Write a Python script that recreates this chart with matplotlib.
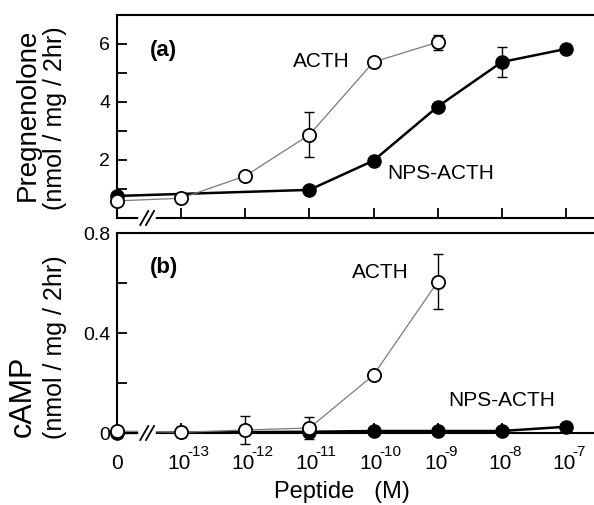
import matplotlib
matplotlib.use("Agg")
import matplotlib.pyplot as plt

plt.rcParams['font.family'] = ['Liberation Sans', 'DejaVu Sans']

# x positions (0 = no peptide, then 10^-13 ... 10^-7)
x_labels = ["0", "-13", "-12", "-11", "-10", "-9", "-8", "-7"]

# Panel (a) Pregnenolone
acth_a_x = [0, 1, 2, 3, 4, 5]
acth_a_y = [0.59, 0.68, 1.45, 2.87, 5.38, 6.06]
acth_a_err = [0.0, 0.0, 0.0, 0.78, 0.0, 0.25]
nps_a_x = [0, 3, 4, 5, 6, 7]
nps_a_y = [0.76, 0.97, 1.98, 3.84, 5.38, 5.83]
nps_a_err = [0.0, 0.0, 0.0, 0.0, 0.52, 0.1]

# Panel (b) cAMP
acth_b_x = [0, 1, 2, 3, 4, 5]
acth_b_y = [0.008, 0.003, 0.012, 0.02, 0.232, 0.605]
acth_b_err = [0.0, 0.02, 0.055, 0.045, 0.0, 0.11]
nps_b_x = [0, 3, 4, 5, 6, 7]
nps_b_y = [0.0, 0.005, 0.008, 0.008, 0.008, 0.025]
nps_b_err = [0.0, 0.0, 0.0, 0.0, 0.0, 0.0]

W, H = 594, 505
fig = plt.figure(figsize=(W / 100, H / 100), dpi=100)

def fx(px):
    return px / W

def fy(py):
    return 1 - py / H

ax1 = fig.add_axes([fx(117), fy(218), 1 - fx(117), fy(15) - fy(218)])
ax2 = fig.add_axes([fx(117), fy(433), 1 - fx(117), fy(233) - fy(433)])

xmax = (594 - 117) / 64.14

def style(ax):
    for s in ['left', 'top', 'bottom']:
        ax.spines[s].set_linewidth(1.5)
    ax.spines['right'].set_visible(False)
    ax.set_xlim(0, xmax)
    ax.set_xticks(range(1, 8))
    ax.tick_params(axis='both', direction='in', length=7, width=1.3, labelsize=14)
    ax.tick_params(axis='y', which='minor', direction='in', length=7, width=1.3)
    ax.tick_params(axis='x', labelbottom=False)
    ax.tick_params(axis='y', pad=5)

def draw(ax, xa, ya, ea, xn, yn, en):
    ax.errorbar(xn, yn, yerr=en, fmt='none', ecolor='black', elinewidth=1.0,
                capsize=3.5, capthick=1.0, zorder=2, clip_on=False)
    ax.plot(xn, yn, '-', color='black', lw=1.8, zorder=3, clip_on=False)
    ax.plot(xn, yn, 'o', mfc='black', mec='black', ms=9.5, zorder=4, clip_on=False)
    ax.errorbar(xa, ya, yerr=ea, fmt='none', ecolor='black', elinewidth=1.0,
                capsize=3.5, capthick=1.0, zorder=5, clip_on=False)
    ax.plot(xa, ya, '-', color='#7a7a7a', lw=0.9, zorder=6, clip_on=False)
    ax.plot(xa, ya, 'o', mfc='white', mec='black', mew=1.3, ms=9.5, zorder=7, clip_on=False)

def brk(ax, yval):
    xb = 0.47
    ax.plot([xb - 0.09, xb + 0.09], [yval, yval], color='white', lw=4,
            clip_on=False, zorder=8)
    inv = ax.transData.inverted()
    for dx in (-0.045, 0.045):
        base = ax.transData.transform((xb + dx, yval))
        p0 = inv.transform((base[0] - 4, base[1] - 7))
        p1 = inv.transform((base[0] + 4, base[1] + 7))
        ax.plot([p0[0], p1[0]], [p0[1], p1[1]], color='black', lw=1.3,
                clip_on=False, zorder=9)

# Panel (a)
style(ax1)
ax1.set_ylim(0, 7)
ax1.set_yticks([2, 4, 6])
ax1.set_yticks([1, 3, 5], minor=True)
draw(ax1, acth_a_x, acth_a_y, acth_a_err, nps_a_x, nps_a_y, nps_a_err)
ax1.text(0.73, 5.76, '(a)', fontsize=16, fontweight='bold', ha='center', va='center')
ax1.text(3.18, 5.38, 'ACTH', fontsize=15, ha='center', va='center')
ax1.text(5.05, 1.55, 'NPS-ACTH', fontsize=15, ha='center', va='center')

# Panel (b)
style(ax2)
ax2.set_ylim(0, 0.8)
ax2.set_yticks([0, 0.4, 0.8])
ax2.set_yticklabels(['0', '0.4', '0.8'])
ax2.set_yticks([0.2, 0.6], minor=True)
draw(ax2, acth_b_x, acth_b_y, acth_b_err, nps_b_x, nps_b_y, nps_b_err)
ax2.text(0.73, 0.664, '(b)', fontsize=16, fontweight='bold', ha='center', va='center')
ax2.text(4.10, 0.644, 'ACTH', fontsize=15, ha='center', va='center')
ax2.text(6.0, 0.132, 'NPS-ACTH', fontsize=15, ha='center', va='center')

# x tick labels with superscripts
for i, lab in enumerate(x_labels):
    if lab == "0":
        ax2.annotate("0", xy=(i, 0), xycoords=('data', 'axes fraction'),
                     xytext=(0, -22), textcoords='offset points',
                     ha='center', va='center', fontsize=15, annotation_clip=False)
    else:
        ax2.annotate("10", xy=(i, 0), xycoords=('data', 'axes fraction'),
                     xytext=(-1.5, -22), textcoords='offset points',
                     ha='center', va='center', fontsize=15, annotation_clip=False)
        ax2.annotate(lab, xy=(i, 0), xycoords=('data', 'axes fraction'),
                     xytext=(4.5, -13.5), textcoords='offset points',
                     ha='left', va='center', fontsize=11, annotation_clip=False)

fig.text(fx(342), fy(492), 'Peptide   (M)', fontsize=17, ha='center', va='center')

# y labels
fig.text(fx(28), fy(115), 'Pregnenolone', fontsize=20, rotation=90, ha='center', va='center')
fig.text(fx(55), fy(118), '(nmol / mg / 2hr)', fontsize=18, rotation=90, ha='center', va='center')
fig.text(fx(23), fy(396), 'cAMP', fontsize=22, rotation=90, ha='center', va='center')
fig.text(fx(55), fy(347), '(nmol / mg / 2hr)', fontsize=18, rotation=90, ha='center', va='center')

fig.canvas.draw()
brk(ax1, 0)
brk(ax2, 0)

fig.savefig('out.png', dpi=100)
